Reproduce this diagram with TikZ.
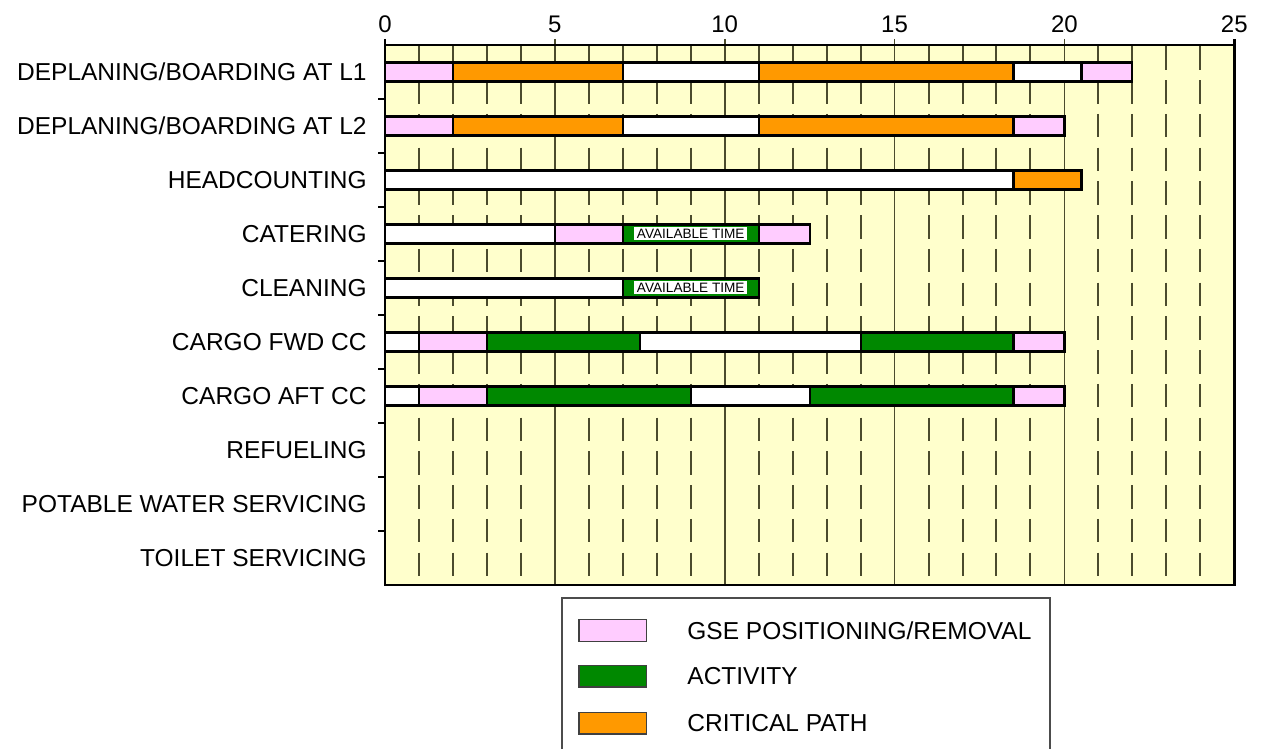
\documentclass[tikz,border=0pt]{standalone}
\usepackage{fontspec}
\setmainfont{Liberation Sans}
\usepackage{tikz}
\definecolor{chartbg}{RGB}{255,255,204}
\definecolor{gsepink}{RGB}{255,204,255}
\definecolor{actgreen}{RGB}{0,136,0}
\definecolor{critorange}{RGB}{255,153,0}
\definecolor{gridline}{RGB}{75,75,45}
\newcommand*{\ganttbar}[4]{\draw[#1] (#2,#4-0.175) rectangle (#3,#4+0.175);}

\begin{document}
\begin{tikzpicture}[x=16.986pt, y=-27pt,
    row_label/.style ={anchor=east, inner sep=0pt,
      font=\fontsize{12.25}{14}\selectfont},
    axis_label/.style ={inner sep=0pt, font=\fontsize{12}{14}\selectfont},
    bar_base/.style ={draw=black, line width=1.1pt},
    bar_gse/.style ={bar_base, fill=gsepink},
    bar_act/.style ={bar_base, fill=actgreen},
    bar_crit/.style ={bar_base, fill=critorange},
    bar_idle/.style ={bar_base, fill=white},
    avail_label/.style ={fill=white, inner sep=0pt, minimum width=56.5pt,
      minimum height=6.5pt, font=\fontsize{6.8}{7}\selectfont},
    grid_dash/.style ={draw=gridline, line width=1pt,
      dash pattern=on 11.75pt off 5.125pt},
    grid_solid/.style ={draw=gridline, line width=0.8pt},
    frame/.style ={draw=black, line width=1.4pt},
    legend_swatch/.style ={draw=black!75, line width=0.6pt},
    legend_text/.style ={anchor=west, inner sep=0pt,
      font=\fontsize{12.25}{14}\selectfont}]
    \useasboundingbox (-11.333,-0.333) rectangle (25.786,13.537);
    % chart area and grid
    \fill[chartbg] (0,0.5) rectangle (25,10.5);
    \foreach \t in {1,2,3,4,6,7,8,9,11,12,13,14,16,17,18,19,21,22,23,24}
      \draw[grid_dash] (\t,0.528) -- (\t,10.5);
    \foreach \t in {5,10,15,20}
      \draw[grid_solid] (\t,0.389) -- (\t,10.5);
    \foreach \r in {1.5,2.5,...,9.5}
      \draw[frame, line width=0.9pt] (-0.2,\r) -- (0,\r);
    \draw[frame] (0,0.389) -- (0,10.5) -- (25,10.5) -- (25,0.389);
    \draw[frame, line width=1.1pt] (0,0.5) -- (25,0.5);
    % time axis
    \node[axis_label] (t0) at (0,0.111) {0};
    \node[axis_label] (t5) at (5,0.111) {5};
    \node[axis_label] (t10) at (10,0.111) {10};
    \node[axis_label] (t15) at (15,0.111) {15};
    \node[axis_label] (t20) at (20,0.111) {20};
    \node[axis_label] (t25) at (25,0.111) {25};
    % row labels
    \node[row_label] (boardl1) at (-0.53,1) {DEPLANING/BOARDING AT L1};
    \node[row_label] (boardl2) at (-0.53,2) {DEPLANING/BOARDING AT L2};
    \node[row_label] (headcount) at (-0.53,3) {HEADCOUNTING};
    \node[row_label] (catering) at (-0.53,4) {CATERING};
    \node[row_label] (cleaning) at (-0.53,5) {CLEANING};
    \node[row_label] (cargofwd) at (-0.53,6) {CARGO FWD CC};
    \node[row_label] (cargoaft) at (-0.53,7) {CARGO AFT CC};
    \node[row_label] (refuel) at (-0.53,8) {REFUELING};
    \node[row_label] (water) at (-0.53,9) {POTABLE WATER SERVICING};
    \node[row_label] (toilet) at (-0.53,10) {TOILET SERVICING};
    % row 1
    \ganttbar{bar_gse}{0}{2}{1}
    \ganttbar{bar_crit}{2}{7}{1}
    \ganttbar{bar_idle}{7}{11}{1}
    \ganttbar{bar_crit}{11}{18.5}{1}
    \ganttbar{bar_idle}{18.5}{20.5}{1}
    \ganttbar{bar_gse}{20.5}{22}{1}
    % row 2
    \ganttbar{bar_gse}{0}{2}{2}
    \ganttbar{bar_crit}{2}{7}{2}
    \ganttbar{bar_idle}{7}{11}{2}
    \ganttbar{bar_crit}{11}{18.5}{2}
    \ganttbar{bar_gse}{18.5}{20}{2}
    % row 3
    \ganttbar{bar_idle}{0}{18.5}{3}
    \ganttbar{bar_crit}{18.5}{20.5}{3}
    % row 4
    \ganttbar{bar_idle}{0}{5}{4}
    \ganttbar{bar_gse}{5}{7}{4}
    \ganttbar{bar_act}{7}{11}{4}
    \ganttbar{bar_gse}{11}{12.5}{4}
    \node[avail_label] (availcat) at (9,4) {AVAILABLE TIME};
    % row 5
    \ganttbar{bar_idle}{0}{7}{5}
    \ganttbar{bar_act}{7}{11}{5}
    \node[avail_label] (availclean) at (9,5) {AVAILABLE TIME};
    % row 6
    \ganttbar{bar_idle}{0}{1}{6}
    \ganttbar{bar_gse}{1}{3}{6}
    \ganttbar{bar_act}{3}{7.5}{6}
    \ganttbar{bar_idle}{7.5}{14}{6}
    \ganttbar{bar_act}{14}{18.5}{6}
    \ganttbar{bar_gse}{18.5}{20}{6}
    % row 7
    \ganttbar{bar_idle}{0}{1}{7}
    \ganttbar{bar_gse}{1}{3}{7}
    \ganttbar{bar_act}{3}{9}{7}
    \ganttbar{bar_idle}{9}{12.5}{7}
    \ganttbar{bar_act}{12.5}{18.5}{7}
    \ganttbar{bar_gse}{18.5}{20}{7}
    % legend
    \draw[draw=black!70, line width=0.8pt] (5.21,13.9) -- (5.21,10.74)
      -- (19.58,10.74) -- (19.58,13.9);
    \draw[legend_swatch, fill=gsepink] (5.71,11.14) rectangle (7.69,11.54);
    \draw[legend_swatch, fill=actgreen] (5.71,11.99) rectangle (7.69,12.39);
    \draw[legend_swatch, fill=critorange] (5.71,12.86) rectangle (7.69,13.26);
    \node[legend_text] (leggse) at (8.89,11.34) {GSE POSITIONING/REMOVAL};
    \node[legend_text] (legact) at (8.89,12.19) {ACTIVITY};
    \node[legend_text] (legcrit) at (8.89,13.06) {CRITICAL PATH};
  \end{tikzpicture}
\end{document}
